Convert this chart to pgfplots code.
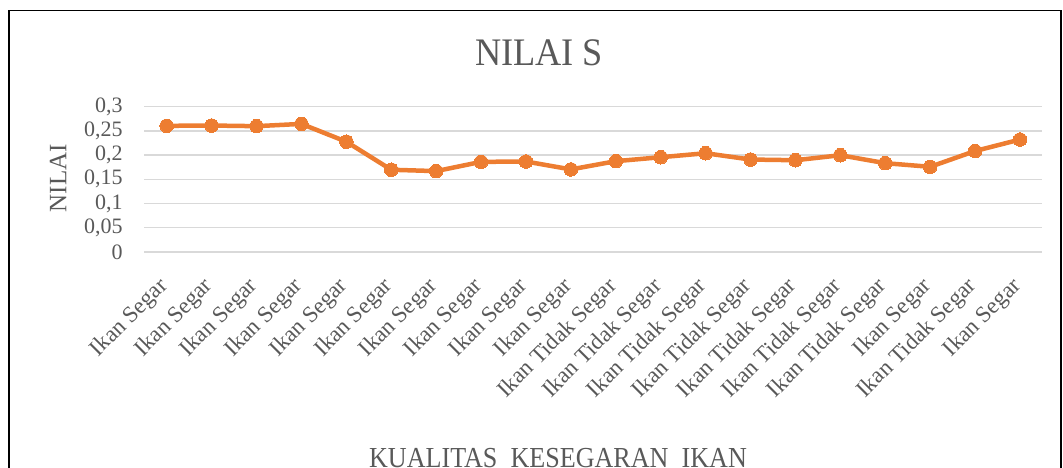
\documentclass[border=0pt]{standalone}
\usepackage{fontspec}
\setmainfont{Liberation Serif}
\newfontfamily\titlef{Liberation Serif}[FakeStretch=0.93]
\newfontfamily\condf{Liberation Serif}[FakeStretch=0.9]
\usepackage{pgfplots}
\pgfplotsset{compat=1.18}
\definecolor{txt}{HTML}{595959}
\definecolor{gridc}{HTML}{D9D9D9}
\definecolor{ora}{HTML}{ED7D31}
\pgfplotstableread{
x y
0 0.2605
1 0.2611
2 0.2598
3 0.2645
4 0.2277
5 0.1698
6 0.1670
7 0.1861
8 0.1868
9 0.1705
10 0.1875
11 0.1957
12 0.2039
13 0.1909
14 0.1895
15 0.1998
16 0.1834
17 0.1759
18 0.2085
19 0.2322
}\datatable
\begin{document}
\begin{tikzpicture}[x=1pt,y=1pt]
\useasboundingbox (0,0) rectangle (1063,468);
\draw[line width=1.5pt] (9,-2) -- (9,457.3) -- (1061,457.3) -- (1061,-2);
\begin{axis}[
  at={(144.25pt,216pt)}, anchor=south west,
  scale only axis, width=898.2pt, height=145.3pt,
  xmin=-0.5, xmax=19.5, ymin=0, ymax=0.3,
  axis line style={draw=none},
  major tick length=0pt,
  ymajorgrids, grid style={gridc, line width=1.4pt},
  xtick={0,...,19},
  xticklabels={Ikan Segar,Ikan Segar,Ikan Segar,Ikan Segar,Ikan Segar,Ikan Segar,Ikan Segar,Ikan Segar,Ikan Segar,Ikan Segar,Ikan Tidak Segar,Ikan Tidak Segar,Ikan Tidak Segar,Ikan Tidak Segar,Ikan Tidak Segar,Ikan Tidak Segar,Ikan Tidak Segar,Ikan Segar,Ikan Tidak Segar,Ikan Segar},
  ytick={0,0.05,0.1,0.15,0.2,0.25,0.3},
  /pgf/number format/use comma,
  /pgf/number format/fixed,
  /pgf/number format/precision=2,
  /pgf/number format/assume math mode=true,
  yticklabel style={font=\fontsize{22}{24}\selectfont, text=txt, anchor=east, inner sep=0pt, xshift=-21.5pt},
  xticklabel style={font=\fontsize{23}{25}\selectfont, text=txt, inner sep=0pt, xshift=-2pt, yshift=-31pt, rotate=45, anchor=east},
  clip=false,
]
\addplot[ora, line width=4.5pt, mark=*, mark size=6.8pt, mark options={fill=ora, draw=ora, line width=0pt}] table[x=x,y=y] {\datatable};
\end{axis}
\node[text=txt, font=\titlef\fontsize{39}{41}\selectfont] at (539,415) {NILAI S};
\node[text=txt, font=\fontsize{25}{27}\selectfont, rotate=90] at (58,289.7) {NILAI};
\node[text=txt, font=\condf\fontsize{29}{31}\selectfont] at (558,10) {KUALITAS\ \ KESEGARAN\ \ IKAN};
\end{tikzpicture}
\end{document}
